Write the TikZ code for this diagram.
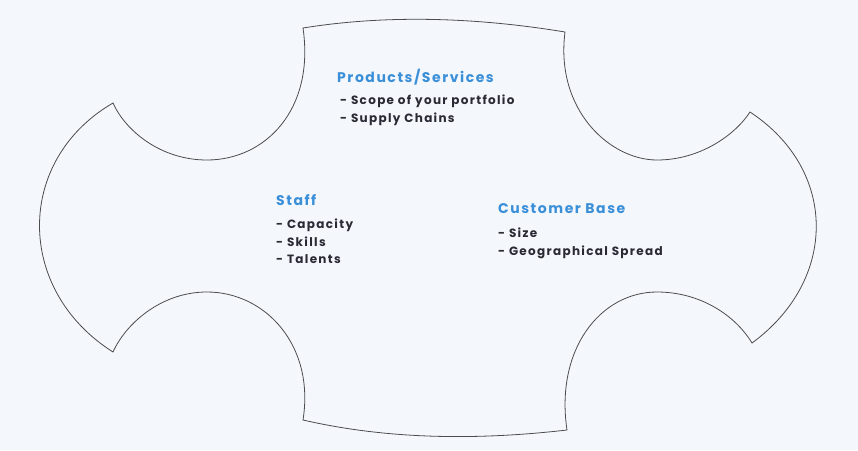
\documentclass[tikz,border=0pt]{standalone}
\usepackage{fontspec}
\setmainfont{Poppins}[LetterSpace=11]
\definecolor{bg}{HTML}{F4F7FB}
\definecolor{hd}{HTML}{3A8FD9}
\definecolor{tx}{HTML}{2A2A35}
\begin{document}
\begin{tikzpicture}[x=1pt,y=-1pt,
  head/.style={anchor=west,text=hd,font=\fontsize{14}{16}\selectfont\bfseries,inner sep=0},
  item/.style={anchor=north west,text=tx,font=\fontsize{12}{17.5}\selectfont\bfseries,align=left,inner sep=0}]
\fill[bg] (0,0) rectangle (858,450);
\draw[color=black!70,line width=0.8pt]
 (303,28) .. controls (390,14) and (480,18) .. (565,32)
 .. controls (555,110) and (610,160) .. (657,160)
 .. controls (700,160) and (735,135) .. (750,112)
 .. controls (838,170) and (838,280) .. (752,343)
 .. controls (735,315) and (700,292) .. (657,292)
 .. controls (600,292) and (555,350) .. (567,430)
 .. controls (480,440) and (390,440) .. (303,420)
 .. controls (315,345) and (265,292) .. (207,292)
 .. controls (160,292) and (125,325) .. (113,352)
 .. controls (15,290) and (15,160) .. (113,103)
 .. controls (125,130) and (160,160) .. (207,160)
 .. controls (265,160) and (315,110) .. (303,28) -- cycle;
\node[head] (ph) at (337,77) {Products/Services};
\node[item] (pl) at (340,95) {- Scope of your portfolio\\- Supply Chains};
\node[head] (sh) at (276,200) {Staff};
\node[item] (sl) at (276,219) {- Capacity\\- Skills\\- Talents};
\node[head] (ch) at (498,209) {Customer Base};
\node[item] (cl) at (498,228) {- Size\\- Geographical Spread};
\end{tikzpicture}
\end{document}
